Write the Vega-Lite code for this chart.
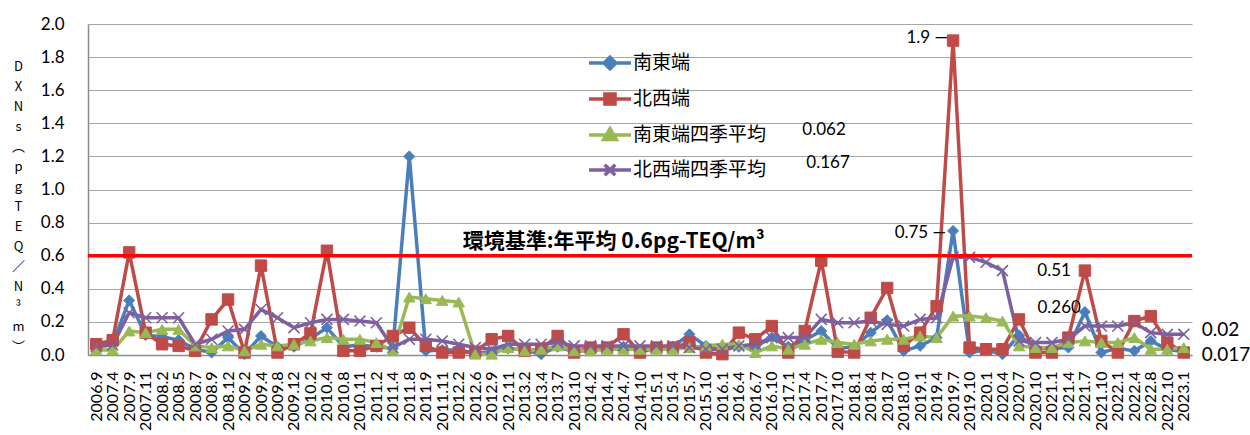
{
"$schema": "https://vega.github.io/schema/vega-lite/v6.json",
"width": 1104, "height": 331,
"autosize": {"type": "none"},
"padding": {"left": 88, "top": 24, "right": 58, "bottom": 80},
"background": "white",
"config": {"view": {"stroke": null}, "font": "Lato"},
"data": {"values": [
{"d":"2006.9","南東端":0.05,"北西端":0.065,"南東端四季平均":0.03,"北西端四季平均":0.05},
{"d":"2007.4","南東端":0.07,"北西端":0.09,"南東端四季平均":0.03,"北西端四季平均":0.06},
{"d":"2007.9","南東端":0.33,"北西端":0.62,"南東端四季平均":0.145,"北西端四季平均":0.255},
{"d":"2007.11","南東端":0.12,"北西端":0.135,"南東端四季平均":0.135,"北西端四季平均":0.225},
{"d":"2008.2","南東端":0.11,"北西端":0.065,"南東端四季平均":0.155,"北西端四季平均":0.225},
{"d":"2008.5","南東端":0.09,"北西端":0.055,"南東端四季平均":0.155,"北西端四季平均":0.225},
{"d":"2008.7","南東端":0.035,"北西端":0.025,"南東端四季平均":0.055,"北西端四季平均":0.065},
{"d":"2008.9","南東端":0.015,"北西端":0.215,"南東端四季平均":0.045,"北西端四季平均":0.095},
{"d":"2008.12","南東端":0.105,"北西端":0.335,"南東端四季平均":0.055,"北西端四季平均":0.145},
{"d":"2009.2","南東端":0.005,"北西端":0.015,"南東端四季平均":0.025,"北西端四季平均":0.155},
{"d":"2009.4","南東端":0.115,"北西端":0.54,"南東端四季平均":0.065,"北西端四季平均":0.275},
{"d":"2009.8","南東端":0.05,"北西端":0.015,"南東端四季平均":0.055,"北西端四季平均":0.225},
{"d":"2009.12","南東端":0.05,"北西端":0.065,"南東端四季平均":0.065,"北西端四季平均":0.165},
{"d":"2010.2","南東端":0.1,"北西端":0.13,"南東端四季平均":0.085,"北西端四季平均":0.195},
{"d":"2010.4","南東端":0.165,"北西端":0.63,"南東端四季平均":0.105,"北西端四季平均":0.215},
{"d":"2010.8","南東端":0.05,"北西端":0.025,"南東端四季平均":0.095,"北西端四季平均":0.215},
{"d":"2010.11","南東端":0.06,"北西端":0.025,"南東端四季平均":0.095,"北西端四季平均":0.205},
{"d":"2011.2","南東端":0.05,"北西端":0.055,"南東端四季平均":0.075,"北西端四季平均":0.195},
{"d":"2011.4","南東端":0.04,"北西端":0.115,"南東端四季平均":0.025,"北西端四季平均":0.045},
{"d":"2011.8","南東端":1.2,"北西端":0.165,"南東端四季平均":0.35,"北西端四季平均":0.095},
{"d":"2011.9","南東端":0.025,"北西端":0.055,"南東端四季平均":0.34,"北西端四季平均":0.095},
{"d":"2011.11","南東端":0.03,"北西端":0.015,"南東端四季平均":0.33,"北西端四季平均":0.085},
{"d":"2012.2","南東端":0.03,"北西端":0.015,"南東端四季平均":0.32,"北西端四季平均":0.065},
{"d":"2012.6","南東端":0.01,"北西端":0.02,"南東端四季平均":0.005,"北西端四季平均":0.045},
{"d":"2012.9","南東端":0.02,"北西端":0.095,"南東端四季平均":0.005,"北西端四季平均":0.035},
{"d":"2012.11","南東端":0.04,"北西端":0.115,"南東端四季平均":0.045,"北西端四季平均":0.065},
{"d":"2013.2","南東端":0.03,"北西端":0.025,"南東端四季平均":0.025,"北西端四季平均":0.065},
{"d":"2013.4","南東端":0.005,"北西端":0.035,"南東端四季平均":0.035,"北西端四季平均":0.065},
{"d":"2013.7","南東端":0.05,"北西端":0.115,"南東端四季平均":0.055,"北西端四季平均":0.075},
{"d":"2013.10","南東端":0.02,"北西端":0.015,"南東端四季平均":0.025,"北西端四季平均":0.055},
{"d":"2014.2","南東端":0.03,"北西端":0.045,"南東端四季平均":0.025,"北西端四季平均":0.055},
{"d":"2014.4","南東端":0.04,"北西端":0.045,"南東端四季平均":0.035,"北西端四季平均":0.055},
{"d":"2014.7","南東端":0.05,"北西端":0.125,"南東端四季平均":0.035,"北西端四季平均":0.055},
{"d":"2014.10","南東端":0.03,"北西端":0.015,"南東端四季平均":0.035,"北西端四季平均":0.055},
{"d":"2015.1","南東端":0.04,"北西端":0.045,"南東端四季平均":0.035,"北西端四季平均":0.055},
{"d":"2015.4","南東端":0.05,"北西端":0.045,"南東端四季平均":0.035,"北西端四季平均":0.055},
{"d":"2015.7","南東端":0.125,"北西端":0.075,"南東端四季平均":0.045,"北西端四季平均":0.045},
{"d":"2015.10","南東端":0.055,"北西端":0.015,"南東端四季平均":0.055,"北西端四季平均":0.035},
{"d":"2016.1","南東端":0.03,"北西端":0.005,"南東端四季平均":0.065,"北西端四季平均":0.035},
{"d":"2016.4","南東端":0.05,"北西端":0.135,"南東端四季平均":0.065,"北西端四季平均":0.055},
{"d":"2016.7","南東端":0.05,"北西端":0.095,"南東端四季平均":0.015,"北西端四季平均":0.065},
{"d":"2016.10","南東端":0.105,"北西端":0.175,"南東端四季平均":0.055,"北西端四季平均":0.105},
{"d":"2017.1","南東端":0.05,"北西端":0.015,"南東端四季平均":0.035,"北西端四季平均":0.105},
{"d":"2017.4","南東端":0.09,"北西端":0.145,"南東端四季平均":0.065,"北西端四季平均":0.105},
{"d":"2017.7","南東端":0.145,"北西端":0.57,"南東端四季平均":0.095,"北西端四季平均":0.215},
{"d":"2017.10","南東端":0.04,"北西端":0.02,"南東端四季平均":0.075,"北西端四季平均":0.195},
{"d":"2018.1","南東端":0.05,"北西端":0.015,"南東端四季平均":0.065,"北西端四季平均":0.195},
{"d":"2018.4","南東端":0.135,"北西端":0.225,"南東端四季平均":0.085,"北西端四季平均":0.205},
{"d":"2018.7","南東端":0.21,"北西端":0.405,"南東端四季平均":0.095,"北西端四季平均":0.185},
{"d":"2018.10","南東端":0.025,"北西端":0.055,"南東端四季平均":0.095,"北西端四季平均":0.175},
{"d":"2019.1","南東端":0.055,"北西端":0.135,"南東端四季平均":0.115,"北西端四季平均":0.215},
{"d":"2019.4","南東端":0.105,"北西端":0.295,"南東端四季平均":0.105,"北西端四季平均":0.225},
{"d":"2019.7","南東端":0.75,"北西端":1.9,"南東端四季平均":0.235,"北西端四季平均":0.59},
{"d":"2019.10","南東端":0.015,"北西端":0.045,"南東端四季平均":0.235,"北西端四季平均":0.59},
{"d":"2020.1","南東端":0.03,"北西端":0.035,"南東端四季平均":0.225,"北西端四季平均":0.56},
{"d":"2020.4","南東端":0.005,"北西端":0.035,"南東端四季平均":0.205,"北西端四季平均":0.51},
{"d":"2020.7","南東端":0.12,"北西端":0.215,"南東端四季平均":0.055,"北西端四季平均":0.085},
{"d":"2020.10","南東端":0.04,"北西端":0.015,"南東端四季平均":0.045,"北西端四季平均":0.075},
{"d":"2021.1","南東端":0.04,"北西端":0.015,"南東端四季平均":0.045,"北西端四季平均":0.075},
{"d":"2021.4","南東端":0.045,"北西端":0.105,"南東端四季平均":0.075,"北西端四季平均":0.095},
{"d":"2021.7","南東端":0.26,"北西端":0.51,"南東端四季平均":0.085,"北西端四季平均":0.175},
{"d":"2021.10","南東端":0.015,"北西端":0.085,"南東端四季平均":0.075,"北西端四季平均":0.175},
{"d":"2022.1","南東端":0.04,"北西端":0.015,"南東端四季平均":0.075,"北西端四季平均":0.175},
{"d":"2022.4","南東端":0.025,"北西端":0.205,"南東端四季平均":0.105,"北西端四季平均":0.195},
{"d":"2022.8","南東端":0.085,"北西端":0.235,"南東端四季平均":0.035,"北西端四季平均":0.135},
{"d":"2022.10","南東端":0.035,"北西端":0.075,"南東端四季平均":0.035,"北西端四季平均":0.125},
{"d":"2023.1","南東端":0.02,"北西端":0.015,"南東端四季平均":0.045,"北西端四季平均":0.125}
]},
"transform": [{"fold": ["南東端","北西端","南東端四季平均","北西端四季平均"], "as": ["s","v"]}],
"layer": [
{
"encoding": {
  "x": {"field": "d", "type": "ordinal", "sort": null, "scale": {"type": "point", "padding": 0.5},
        "axis": {"title": null, "labelAngle": -90, "labelFont": "Lato", "labelFontSize": 16, "labelColor": "#000", "labelPadding": 16, "ticks": false, "domainColor": "#8c8c8c", "domainWidth": 1.5, "grid": false, "labelOverlap": false}},
  "y": {"field": "v", "type": "quantitative", "scale": {"domain": [0, 2], "nice": false},
        "axis": {"values": [0,0.2,0.4,0.6,0.8,1.0,1.2,1.4,1.6,1.8,2.0], "tickCount": 20, "labelOverlap": false, "format": ".1f", "labelFont": "Lato", "labelFontSize": 17, "labelColor": "#000", "labelPadding": 24, "ticks": false, "domainColor": "#8c8c8c", "domainWidth": 1.5, "grid": true, "gridColor": "#a6a6a6", "gridWidth": 1.2,
                 "title": ["D","X","N","s","︵","p","g","T","E","Q","／","N","³","m","︶"], "titleAngle": 0, "titleAlign": "center", "titleBaseline": "top", "titleX": -70, "titleY": 36, "titleFont": "Noto Sans CJK JP", "titleFontSize": 13, "titleFontWeight": "normal", "titleLineHeight": 20, "titleColor": "#000"}}
},
"layer": [
{"mark": {"type": "line", "strokeWidth": 3.5},
 "encoding": {"color": {"field": "s", "type": "nominal",
   "scale": {"domain": ["南東端","北西端","南東端四季平均","北西端四季平均"], "range": ["#4A7EBB","#BE4B48","#98B954","#7D60A0"]},
   "legend": {"orient": "none", "legendX": 499, "legendY": 16, "title": null, "padding": 0,
     "labelFont": "Noto Sans CJK JP", "labelFontSize": 19, "labelColor": "#000", "labelOffset": 0,
     "symbolSize": 1764, "rowPadding": -5, "symbolStrokeWidth": 3.5,
     "encode": {"symbols": {"update": {
        "shape": [
          {"test": "datum.value === '南東端'", "value": "M-1,0H1M0,-0.28L0.28,0L0,0.28L-0.28,0Z"},
          {"test": "datum.value === '北西端'", "value": "M-1,0H1M-0.24,-0.24H0.24V0.24H-0.24Z"},
          {"test": "datum.value === '南東端四季平均'", "value": "M-1,0H1M0,-0.3L0.3,0.22H-0.3Z"},
          {"value": "M-1,0H1M-0.25,-0.25L0.25,0.25M-0.25,0.25L0.25,-0.25"}],
        "fill": {"scale": "color", "field": "value"},
        "strokeWidth": {"value": 3.5},
        "opacity": {"value": 1}}}}}}}},
{"transform": [{"filter": "datum.s === '南東端'"}],
 "mark": {"type": "point", "shape": "diamond", "filled": true, "size": 120, "opacity": 1, "color": "#4A7EBB", "stroke": "#4A7EBB", "strokeWidth": 1}},
{"transform": [{"filter": "datum.s === '北西端'"}],
 "mark": {"type": "point", "shape": "square", "filled": true, "size": 130, "opacity": 1, "color": "#BE4B48", "stroke": "#BE4B48", "strokeWidth": 1}},
{"transform": [{"filter": "datum.s === '南東端四季平均'"}],
 "mark": {"type": "point", "shape": "triangle-up", "filled": true, "size": 130, "opacity": 1, "color": "#98B954", "stroke": "#98B954", "strokeWidth": 1}},
{"transform": [{"filter": "datum.s === '北西端四季平均'"}],
 "mark": {"type": "point", "shape": "M-1,-1L1,1M-1,1L1,-1", "filled": false, "size": 120, "opacity": 1, "color": "#7D60A0", "strokeWidth": 1.6}},
{"transform": [{"filter": "datum.d === '2019.7' && datum.s === '北西端'"}],
 "mark": {"type": "text", "text": "1.9 —", "align": "right", "baseline": "middle", "dx": -5, "dy": -3, "font": "Lato", "fontSize": 17, "color": "#000"}},
{"transform": [{"filter": "datum.d === '2019.7' && datum.s === '南東端'"}],
 "mark": {"type": "text", "text": "0.75 —", "align": "right", "baseline": "middle", "dx": -7, "dy": 2, "font": "Lato", "fontSize": 17, "color": "#000"}},
{"transform": [{"filter": "datum.d === '2021.7' && datum.s === '北西端'"}],
 "mark": {"type": "text", "text": "0.51", "align": "right", "baseline": "middle", "dx": -14, "dy": 0, "font": "Lato", "fontSize": 17, "color": "#000"}},
{"transform": [{"filter": "datum.d === '2021.7' && datum.s === '南東端'"}],
 "mark": {"type": "text", "text": "0.260", "align": "right", "baseline": "middle", "dx": -4, "dy": -4, "font": "Lato", "fontSize": 17, "color": "#000"}},
{"transform": [{"filter": "datum.d === '2017.1' && datum.s === '南東端'"}],
 "mark": {"type": "text", "text": "0.062", "align": "left", "baseline": "middle", "dx": 14, "font": "Lato", "fontSize": 17, "color": "#000"},
 "encoding": {"y": {"datum": 1.36}}},
{"transform": [{"filter": "datum.d === '2017.1' && datum.s === '北西端'"}],
 "mark": {"type": "text", "text": "0.167", "align": "left", "baseline": "middle", "dx": 18, "font": "Lato", "fontSize": 17, "color": "#000"},
 "encoding": {"y": {"datum": 1.16}}},
{"transform": [{"filter": "datum.d === '2023.1' && datum.s === '北西端四季平均'"}],
 "mark": {"type": "text", "text": "0.02", "align": "left", "baseline": "middle", "dx": 18, "font": "Lato", "fontSize": 19, "color": "#000"},
 "encoding": {"y": {"datum": 0.151}}},
{"transform": [{"filter": "datum.d === '2023.1' && datum.s === '南東端四季平均'"}],
 "mark": {"type": "text", "text": "0.017", "align": "left", "baseline": "middle", "dx": 18, "font": "Lato", "fontSize": 19, "color": "#000"},
 "encoding": {"y": {"datum": 0.0}}},
{"transform": [{"filter": "datum.d === '2012.2' && datum.s === '南東端'"}],
 "mark": {"type": "text", "text": "環境基準:年平均 0.6pg-TEQ/m³", "align": "left", "baseline": "middle", "dx": 4, "font": "Noto Sans CJK JP", "fontWeight": "bold", "fontSize": 21, "color": "#000"},
 "encoding": {"y": {"datum": 0.683}}}
]
},
{"data": {"values": [{}]},
 "mark": {"type": "rule", "color": "#FF0000", "strokeWidth": 3.5},
 "encoding": {"y": {"datum": 0.6, "type": "quantitative"}}}
]
}
